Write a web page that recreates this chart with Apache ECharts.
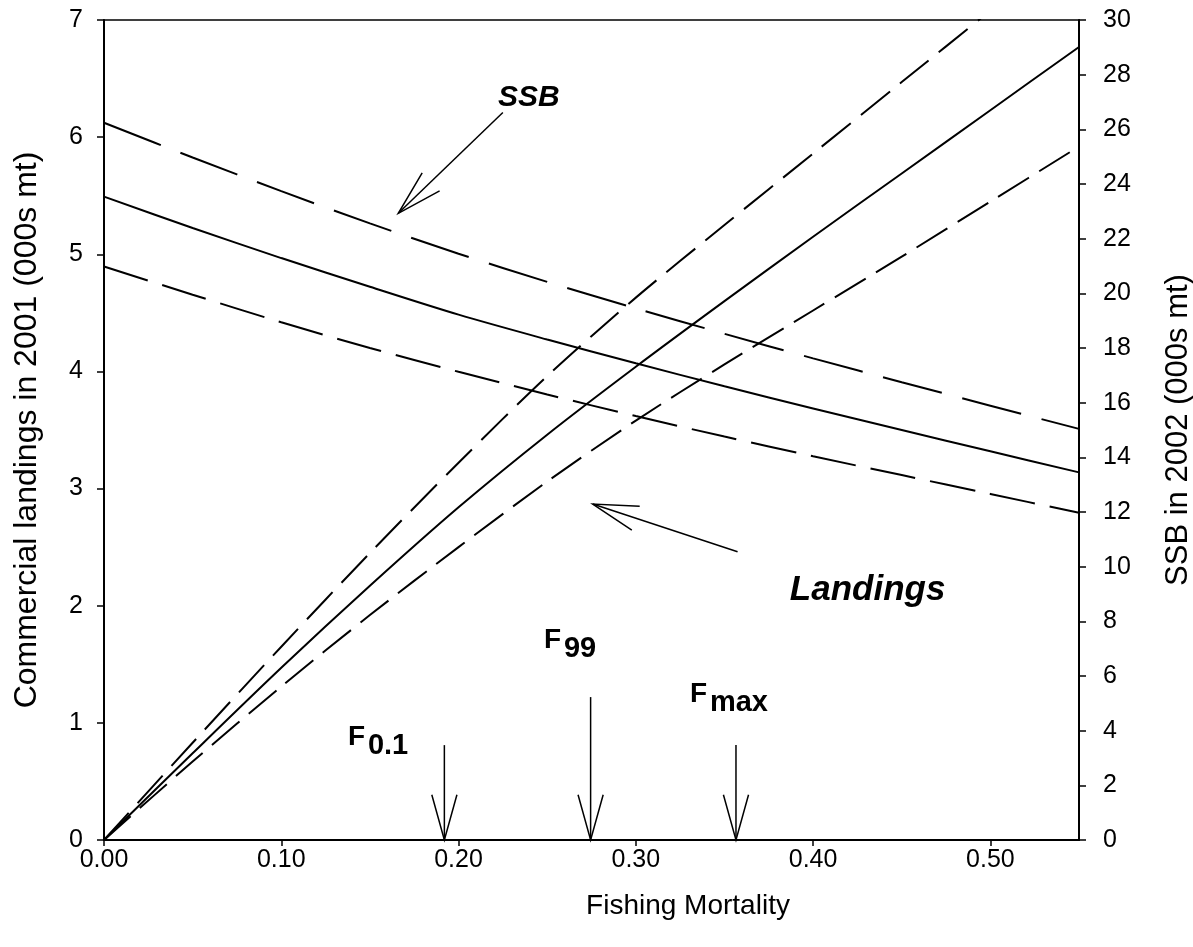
<!DOCTYPE html>
<html>
<head>
<meta charset="utf-8">
<script src="https://cdn.jsdelivr.net/npm/echarts@6/dist/echarts.min.js"></script>
<style>
  html, body { margin: 0; padding: 0; background: #fff; }
  #chart { width: 1193px; height: 947px; }
</style>
</head>
<body>
<div id="chart"></div>
<script>
// Fishing mortality grid (x)
const fishingF = [0, 0.05, 0.10, 0.15, 0.20, 0.25, 0.30, 0.35, 0.40, 0.45, 0.50, 0.55];
// Commercial landings in 2001 (000s mt), left axis
const landings = [0, 0.74, 1.47, 2.17, 2.84, 3.46, 4.04, 4.60, 5.15, 5.69, 6.23, 6.77];
const landingsHigh = [0, 0.83, 1.65, 2.45, 3.22, 3.96, 4.63, 5.25, 5.86, 6.47, 7.08, 7.69];
const landingsLow = [0, 0.67, 1.31, 1.92, 2.50, 3.06, 3.58, 4.06, 4.52, 4.98, 5.45, 5.92];
// SSB in 2002 (000s mt), right axis
const ssb = [23.54, 22.39, 21.29, 20.24, 19.22, 18.31, 17.44, 16.60, 15.79, 15.00, 14.22, 13.45];
const ssbHigh = [26.24, 24.97, 23.74, 22.56, 21.45, 20.42, 19.45, 18.52, 17.62, 16.75, 15.89, 15.04];
const ssbLow = [20.98, 19.95, 18.94, 18.00, 17.13, 16.30, 15.51, 14.76, 14.04, 13.35, 12.66, 11.97];

// Reference points F0.1, F99, Fmax
const refNames = ['0.1', '99', 'max'];
const refF = [0.192, 0.2745, 0.3565];
const refArrowTop = [0.81, 1.22, 0.81]; // in landings units
// label anchors (F, landings units) for F labels
const refLabelF = [0.1376, 0.2482, 0.3305];
const refLabelY = [1.0, 1.827, 1.366];

// text callouts and their arrows (tail F, tail y, tip F, tip y) in landings units
const calloutNames = ['SSB', 'Landings'];
const calloutSizes = [30, 35];
const calloutAt = [[0.2222, 6.334], [0.3869, 2.134]];
const calloutArrows = [[0.225, 6.21, 0.166, 5.35], [0.3574, 2.461, 0.2757, 2.868]];

const FONT = '"Liberation Sans", Arial, Helvetica, sans-serif';
const BLACK = '#000';

const zip = (xs, ys) => xs.map((x, i) => [x, ys[i]]);

const arrowData = refF.map((f, i) => [f, refArrowTop[i], f, 0]).concat(calloutArrows);

function renderArrow(params, api) {
  const tail = api.coord([api.value(0), api.value(1)]);
  const tip = api.coord([api.value(2), api.value(3)]);
  const ang = Math.atan2(tail[1] - tip[1], tail[0] - tip[0]);
  const len = 47;
  const spread = 15.5 * Math.PI / 180;
  const w1 = [tip[0] + len * Math.cos(ang + spread), tip[1] + len * Math.sin(ang + spread)];
  const w2 = [tip[0] + len * Math.cos(ang - spread), tip[1] + len * Math.sin(ang - spread)];
  return {
    type: 'group',
    children: [
      { type: 'line', shape: { x1: tail[0], y1: tail[1], x2: tip[0], y2: tip[1] }, style: { stroke: BLACK, lineWidth: 1.5 } },
      { type: 'polyline', shape: { points: [w1, tip, w2] }, style: { stroke: BLACK, lineWidth: 1.5, fill: null } }
    ]
  };
}

const refLabelData = refNames.map((n, i) => [refLabelF[i], refLabelY[i], i]);

function renderRefLabel(params, api) {
  const p = api.coord([api.value(0), api.value(1)]);
  const sub = refNames[api.value(2)];
  return {
    type: 'group',
    children: [
      { type: 'text', x: p[0], y: p[1], style: { text: 'F', font: 'bold 28px ' + FONT, fill: BLACK, align: 'left', verticalAlign: 'top' } },
      { type: 'text', x: p[0] + 20, y: p[1] + 9, style: { text: sub, font: 'bold 29px ' + FONT, fill: BLACK, align: 'left', verticalAlign: 'top' } }
    ]
  };
}

const calloutData = calloutNames.map((n, i) => [calloutAt[i][0], calloutAt[i][1], i]);

function renderCallout(params, api) {
  const p = api.coord([api.value(0), api.value(1)]);
  const i = api.value(2);
  return {
    type: 'text',
    x: p[0],
    y: p[1],
    style: { text: calloutNames[i], font: 'italic bold ' + calloutSizes[i] + 'px ' + FONT, fill: BLACK, align: 'left', verticalAlign: 'middle' }
  };
}

const lineBase = { type: 'line', symbol: 'none', smooth: 0.3, silent: true, animation: false };

const chart = echarts.init(document.getElementById('chart'));
chart.setOption({
  animation: false,
  backgroundColor: '#fff',
  grid: {
    left: 104, right: 114, top: 20, bottom: 107,
    show: true, borderColor: BLACK, borderWidth: 1.5,
    containLabel: false, outerBoundsMode: 'none'
  },
  xAxis: {
    type: 'value',
    min: 0,
    max: 0.55,
    interval: 0.1,
    name: 'Fishing Mortality',
    nameLocation: 'middle',
    nameGap: 52,
    nameTextStyle: { fontFamily: FONT, fontSize: 28, color: BLACK, padding: [0, 0, 0, 193] },
    axisLine: { lineStyle: { color: BLACK, width: 2 } },
    axisTick: { length: 6, lineStyle: { color: BLACK, width: 1.5 } },
    axisLabel: { showMaxLabel: false, margin: 8, fontFamily: FONT, fontSize: 25, color: BLACK, formatter: v => v.toFixed(2) },
    splitLine: { show: false }
  },
  yAxis: [
    {
      type: 'value',
      min: 0,
      max: 7,
      interval: 1,
      name: 'Commercial landings in 2001 (000s mt)',
      nameLocation: 'middle',
      nameRotate: 90,
      nameGap: 61,
      nameTextStyle: { fontFamily: FONT, fontSize: 32, color: BLACK },
      axisLine: { show: true, lineStyle: { color: BLACK, width: 2 } },
      axisTick: { show: true, length: 7, lineStyle: { color: BLACK, width: 1.5 } },
      axisLabel: { margin: 21, fontFamily: FONT, fontSize: 25, color: BLACK },
      splitLine: { show: false }
    },
    {
      type: 'value',
      position: 'right',
      min: 0,
      max: 30,
      interval: 2,
      name: 'SSB in 2002 (000s mt)',
      nameLocation: 'middle',
      nameRotate: 90,
      nameGap: 84,
      nameTextStyle: { fontFamily: FONT, fontSize: 31, color: BLACK },
      axisLine: { show: true, lineStyle: { color: BLACK, width: 2 } },
      axisTick: { show: true, length: 7, lineStyle: { color: BLACK, width: 1.5 } },
      axisLabel: { margin: 24, fontFamily: FONT, fontSize: 25, color: BLACK },
      splitLine: { show: false }
    }
  ],
  series: [
    Object.assign({}, lineBase, { name: 'Landings', yAxisIndex: 0, data: zip(fishingF, landings), lineStyle: { color: BLACK, width: 2 } }),
    Object.assign({}, lineBase, { name: 'Landings high', yAxisIndex: 0, data: zip(fishingF, landingsHigh), lineStyle: { color: BLACK, width: 2, type: [37, 13] } }),
    Object.assign({}, lineBase, { name: 'Landings low', yAxisIndex: 0, data: zip(fishingF, landingsLow), lineStyle: { color: BLACK, width: 2, type: [36, 12] } }),
    Object.assign({}, lineBase, { name: 'SSB', yAxisIndex: 1, data: zip(fishingF, ssb), lineStyle: { color: BLACK, width: 2 } }),
    Object.assign({}, lineBase, { name: 'SSB high', yAxisIndex: 1, data: zip(fishingF, ssbHigh), lineStyle: { color: BLACK, width: 2, type: [61, 21] } }),
    Object.assign({}, lineBase, { name: 'SSB low', yAxisIndex: 1, data: zip(fishingF, ssbLow), lineStyle: { color: BLACK, width: 2, type: [46, 15] } }),
    { type: 'custom', name: 'arrows', yAxisIndex: 0, silent: true, renderItem: renderArrow, data: arrowData, z: 5 },
    { type: 'custom', name: 'ref labels', yAxisIndex: 0, silent: true, renderItem: renderRefLabel, data: refLabelData, z: 5 },
    { type: 'custom', name: 'callouts', yAxisIndex: 0, silent: true, renderItem: renderCallout, data: calloutData, z: 5 }
  ]
});
</script>
</body>
</html>
